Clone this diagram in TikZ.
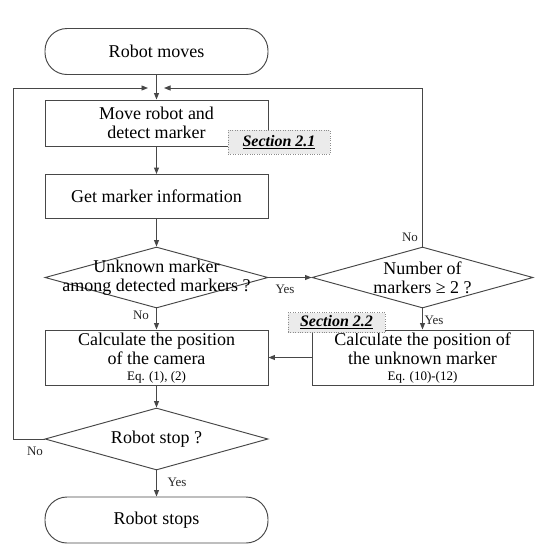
\documentclass[tikz,border=0pt]{standalone}
\usepackage{fontspec}
\setmainfont{Liberation Serif}
\usetikzlibrary{arrows.meta,shapes.geometric}
\begin{document}
\begin{tikzpicture}[x=1pt,y=-1pt,
  line/.style={draw=black!72, line width=0.95pt},
  arr/.style={line, -{Triangle[length=6.5pt,width=5pt]}},
  term/.style={line, rounded corners=22pt, minimum width=223pt, minimum height=46pt, inner sep=0pt, font=\fontsize{18}{19}\selectfont},
  proc/.style={line, rectangle, minimum width=223pt, minimum height=45pt, inner sep=0pt, align=center, font=\fontsize{18}{19}\selectfont},
  dia/.style={line, diamond, minimum width=223pt, minimum height=61pt, inner sep=0pt},
  dtext/.style={align=center, font=\fontsize{18}{19}\selectfont},
  sec/.style={draw=black!45, dotted, fill=black!8, inner sep=0pt, font=\fontsize{16}{17}\selectfont\bfseries\itshape},
  lab/.style={font=\fontsize{13}{14}\selectfont, text=black!85},
  small/.style={font=\fontsize{13}{14}\selectfont}
]
\useasboundingbox (0,0) rectangle (543,550);

\node[term] (rm) at (156.5,51.5) {Robot moves};
\node[proc, minimum height=46pt] (mv) at (156.5,123) {Move robot and\\detect marker};
\node[sec, minimum width=102pt, minimum height=24pt] (s1) at (279,142) {\underline{Section 2.1}};
\node[proc, minimum height=44pt] (get) at (156.5,196.5) {Get marker information};
\node[dia] (d1) at (156.5,277.5) {};
\node[dtext] (d1t) at (156.5,277.5) {Unknown marker\\among detected markers ?};
\node[dia, minimum width=221pt] (d2) at (422.5,277.5) {};
\node[dtext] (d2t) at (422.5,277.5) {Number of\\markers ≥ 2 ?};
\node[proc, minimum width=221pt, minimum height=55pt] (unk) at (422.5,357.5) {};
\node[align=center, font=\fontsize{18}{19}\selectfont] (unkt) at (422.5,358) {Calculate the position of\\the unknown marker\\[-3pt]{\fontsize{13}{14}\selectfont Eq. (10)-(12)}};
\node[sec, minimum width=97pt, minimum height=20pt] (s2) at (336.5,322.5) {\underline{Section 2.2}};
\node[proc, minimum height=55pt] (cam) at (156.5,357.5) {};
\node[align=center, font=\fontsize{18}{19}\selectfont] (camt) at (156.5,358.5) {Calculate the position\\of the camera\\[-3pt]{\fontsize{13}{14}\selectfont Eq. (1), (2)}};
\node[dia, minimum height=62pt] (d3) at (156.5,439) {};
\node[dtext] (d3t) at (156.5,439) {Robot stop ?};
\node[term] (rs) at (156.5,520) {Robot stops};

\coordinate (l1) at (13,439);
\coordinate (l2) at (13,88);
\coordinate (l3) at (148,88);
\coordinate (r1) at (422.5,88);
\coordinate (r2) at (164,88);

\draw[arr] (rm.south) -- (mv.north);
\draw[arr] (d3.west) -- (l1) -- (l2) -- (l3);
\draw[arr] (d2.north) -- (r1) -- (r2);
\draw[arr] (mv.south) -- (get.north);
\draw[arr] (get.south) -- (d1.north);
\draw[arr] (d1.east) -- (d2.west);
\draw[arr] (d1.south) -- (cam.north);
\draw[arr] (d2.south) -- (unk.north);
\draw[arr] (unk.west) -- (cam.east);
\draw[arr] (cam.south) -- (d3.north);
\draw[arr] (d3.south) -- (rs.north);

\node[lab] (ln1) at (141,315) {No};
\node[lab] (ly1) at (285,289) {Yes};
\node[lab] (ln2) at (410,237) {No};
\node[lab] (ly2) at (434,320) {Yes};
\node[lab] (ln3) at (35,451) {No};
\node[lab] (ly3) at (177,482) {Yes};
\end{tikzpicture}
\end{document}
